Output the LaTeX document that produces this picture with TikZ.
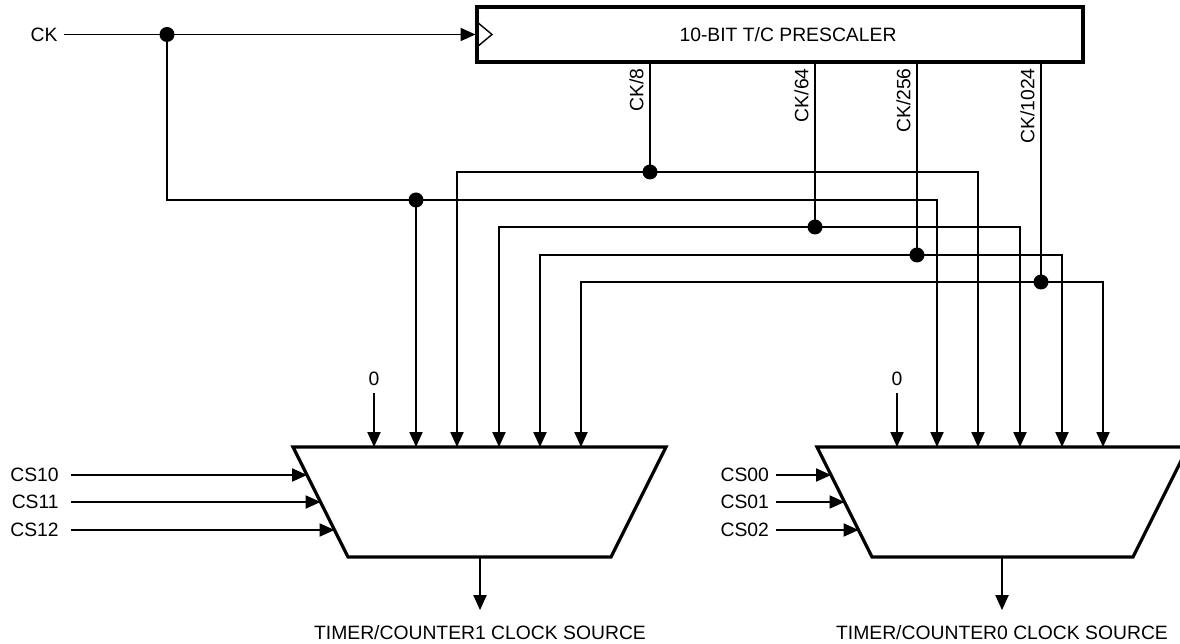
\documentclass[tikz,border=0pt]{standalone}
\usepackage{fontspec}
\setmainfont{Liberation Sans}
\usetikzlibrary{arrows.meta}

\begin{document}
\begin{tikzpicture}[x=0.02cm, y=-0.02cm, font=\fontsize{11}{13}\selectfont,
    wire/.style={line width=0.8pt, line join=miter},
    thickline/.style={line width=1.85pt, line join=miter},
    into/.style={wire, -{Triangle[length=8.5pt, width=7.5pt]}},
    sig/.style={inner sep=0pt, outer sep=4pt},
    tap/.style={rotate=90, anchor=south east, inner sep=0pt}]

    \useasboundingbox (0,0) rectangle (1180,644);

    % prescaler
    \node[draw, thickline, minimum width=12.12cm, minimum height=1.1cm] (pre) at (780,34.5) {};
    \node (pretext) at (788,35) {10-BIT T/C PRESCALER};
    \draw[wire] (477,22) -- (492,34.5) -- (477,47);

    % multiplexers
    \draw[thickline] (293,447) -- (666,447) -- (611,557) -- (348,557) -- cycle;
    \draw[thickline] (817,447) -- (1188,447) -- (1133,557) -- (872,557) -- cycle;

    \coordinate (m1in0) at (374,447);
    \coordinate (m1in1) at (416,447);
    \coordinate (m1in2) at (457,447);
    \coordinate (m1in3) at (499,447);
    \coordinate (m1in4) at (540,447);
    \coordinate (m1in5) at (581,447);
    \coordinate (m0in0) at (897,447);
    \coordinate (m0in1) at (937,447);
    \coordinate (m0in2) at (978,447);
    \coordinate (m0in3) at (1020,447);
    \coordinate (m0in4) at (1062,447);
    \coordinate (m0in5) at (1103,447);

    % clock and prescaler taps
    \node[sig] (ck) at (44,34.5) {CK};
    \coordinate (jck) at (167,34.5);
    \coordinate (jck1) at (416,200);
    \draw[into] (ck) -- (pre.west);
    \draw[into] (jck) |- (jck1) -| (m0in1);
    \draw[into] (jck1) -- (m1in1);

    \coordinate (j8) at (650,172);
    \coordinate (j64) at (815,227);
    \coordinate (j256) at (917,255);
    \coordinate (j1024) at (1041,282);

    \draw[wire] (pre.south -| j8) -- (j8);
    \draw[wire] (pre.south -| j64) -- (j64);
    \draw[wire] (pre.south -| j256) -- (j256);
    \draw[wire] (pre.south -| j1024) -- (j1024);

    \node[tap] (div8) at (644,68) {CK/8};
    \node[tap] (div64) at (809,68) {CK/64};
    \node[tap] (div256) at (911,68) {CK/256};
    \node[tap] (div1024) at (1035,68) {CK/1024};

    \draw[into] (j8) -| (m1in2);
    \draw[into] (j8) -| (m0in2);
    \draw[into] (j64) -| (m1in3);
    \draw[into] (j64) -| (m0in3);
    \draw[into] (j256) -| (m1in4);
    \draw[into] (j256) -| (m0in4);
    \draw[into] (j1024) -| (m1in5);
    \draw[into] (j1024) -| (m0in5);

    \fill (jck) circle[radius=0.15cm];
    \fill (jck1) circle[radius=0.15cm];
    \fill (j8) circle[radius=0.15cm];
    \fill (j64) circle[radius=0.15cm];
    \fill (j256) circle[radius=0.15cm];
    \fill (j1024) circle[radius=0.15cm];

    % constant inputs
    \node[sig] (zero1) at (374,379) {0};
    \node[sig] (zero0) at (897,379) {0};
    \draw[into] (zero1) -- (m1in0);
    \draw[into] (zero0) -- (m0in0);

    % select lines
    \coordinate (m1s0) at (307,475);
    \coordinate (m1s1) at (320.5,502);
    \coordinate (m1s2) at (334.5,530);
    \coordinate (m0s0) at (831,475);
    \coordinate (m0s1) at (844.5,502);
    \coordinate (m0s2) at (858.5,530);

    \node[sig, outer sep=7pt, anchor=east] (cs10) at (71,475) {CS10};
    \node[sig, outer sep=7pt, anchor=east] (cs11) at (71,502) {CS11};
    \node[sig, outer sep=7pt, anchor=east] (cs12) at (71,530) {CS12};
    \node[sig, anchor=east] (cs00) at (776,475) {CS00};
    \node[sig, anchor=east] (cs01) at (776,502) {CS01};
    \node[sig, anchor=east] (cs02) at (776,530) {CS02};

    \draw[into] (cs10) -- (m1s0);
    \draw[into] (cs11) -- (m1s1);
    \draw[into] (cs12) -- (m1s2);
    \draw[into] (cs00) -- (m0s0);
    \draw[into] (cs01) -- (m0s1);
    \draw[into] (cs02) -- (m0s2);

    % outputs
    \coordinate (m1out) at (480,557);
    \coordinate (m0out) at (1002,557);
    \node[sig, outer sep=9pt] (timer1) at (480,633) {TIMER/COUNTER1 CLOCK SOURCE};
    \node[sig, outer sep=9pt] (timer0) at (1002,633) {TIMER/COUNTER0 CLOCK SOURCE};
    \draw[into] (m1out) -- (timer1);
    \draw[into] (m0out) -- (timer0);

\end{tikzpicture}
\end{document}
